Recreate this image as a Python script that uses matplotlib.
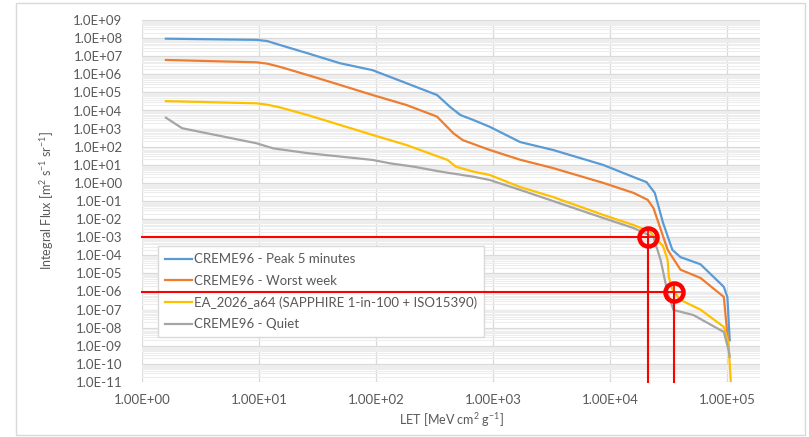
import numpy as np
import matplotlib
matplotlib.use('Agg')
import matplotlib.pyplot as plt
from matplotlib.ticker import FixedLocator, FuncFormatter, NullLocator, LogLocator
from matplotlib.patches import Rectangle

plt.rcParams['font.family'] = ['Lato', 'DejaVu Sans']
plt.rcParams['mathtext.fontset'] = 'custom'
plt.rcParams['mathtext.rm'] = 'Lato'
plt.rcParams['mathtext.it'] = 'Lato'

# LET spectra [MeV cm2 g-1] vs integral flux [m-2 s-1 sr-1]
peak_let = [1.6, 9.5, 11.7, 15, 26, 49, 93, 182, 331, 427, 525, 676, 933, 1700, 3240, 8710,
            15800, 20400, 24000, 28200, 33900, 39800, 58900, 93300, 100000, 104700]
peak_flux = [9.3e7, 8.0e7, 6.9e7, 4.2e7, 1.45e7, 4.1e6, 1.7e6, 3.2e5, 7.2e4, 1.6e4, 5.6e3, 3.0e3,
             1.26e3, 1.8e2, 66, 9.8, 2.1, 1.1, 0.28, 6.3e-3, 2.0e-4, 7.9e-5, 3.2e-5,
             1.8e-6, 5.0e-7, 2.0e-9]

week_let = [1.6, 9.5, 11.7, 15, 26, 49, 93, 182, 331, 457, 550, 933, 1700, 3240, 8710, 15800,
            20900, 23400, 30900, 39800, 58900, 93300, 102300]
week_flux = [6.2e6, 4.6e6, 3.9e6, 2.6e6, 9.1e5, 2.6e5, 7.2e4, 2.0e4, 4.6e3, 5.5e2, 2.3e2, 66, 19,
             6.6, 1.0, 0.28, 0.115, 0.04, 2.0e-4, 1.6e-5, 5.6e-6, 5.0e-7, 8.5e-10]

ea_let = [1.6, 9.5, 11.7, 15, 26, 49, 93, 182, 407, 479, 676, 933, 1700, 3240, 8710, 15800,
          21900, 28200, 30900, 31600, 33900, 39800, 58900, 93300, 102300, 107000]
ea_flux = [3.3e4, 2.5e4, 2.1e4, 1.5e4, 5.6e3, 1.6e3, 4.5e2, 1.23e2, 18.6, 7.9, 4.2, 2.75, 0.59,
           0.166, 0.017, 4.7e-3, 2.0e-3, 3.2e-4, 5.5e-5, 6.3e-6, 1.26e-6, 3.4e-7, 1.0e-7,
           1.1e-8, 1.4e-9, 1e-11]

quiet_let = [1.6, 2.2, 3.6, 9.5, 13.2, 26, 93, 132, 209, 355, 676, 933, 1700, 8710, 15800,
             23400, 26900, 30900, 34700, 51300, 93300, 102300, 104700]
quiet_flux = [4.0e3, 1.05e3, 5.5e2, 1.55e2, 81, 44, 18.6, 12, 7.9, 4.2, 2.2, 1.45, 0.41,
              0.0115, 3.2e-3, 1.0e-3, 5.5e-5, 8.3e-7, 9.5e-8, 5.0e-8, 5.8e-9, 5.9e-10, 2.5e-10]

labels = ['CREME96 - Peak 5 minutes', 'CREME96 - Worst week',
          'EA_2026_a64 (SAPPHIRE 1-in-100 + ISO15390)', 'CREME96 - Quiet']
colors = ['#5b9bd5', '#ed7d31', '#ffc000', '#a5a5a5']

# threshold markers: (LET, flux)
mark_let = [2.1e4, 3.5e4]
mark_flux = [1e-3, 1e-6]

xticks = [1e0, 1e1, 1e2, 1e3, 1e4, 1e5]
yticks = [10.0 ** k for k in range(-11, 10)]

fig = plt.figure(figsize=(8.09, 4.37), dpi=100)
ax = fig.add_axes([142 / 809, 1 - 382 / 437, 618 / 809, 362 / 437])

series = [(peak_let, peak_flux), (week_let, week_flux), (ea_let, ea_flux), (quiet_let, quiet_flux)]
for (x, y), lab, c in zip(series, labels, colors):
    ax.plot(x, y, color=c, lw=1.6, label=lab, zorder=3, solid_joinstyle='round')

ax.set_xscale('log')
ax.set_yscale('log')
xmin, xmax = 1.0, 1.9e5
ymin, ymax = 1e-11, 1e9
ax.set_xlim(xmin, xmax)
ax.set_ylim(ymin, ymax)

ax.xaxis.set_major_locator(FixedLocator(xticks))
ax.xaxis.set_minor_locator(NullLocator())
ax.yaxis.set_major_locator(FixedLocator(yticks))
ax.yaxis.set_minor_locator(LogLocator(base=10, subs=np.arange(2, 10), numticks=100))
ax.xaxis.set_major_formatter(FuncFormatter(lambda v, p: '%.2E' % v))
ax.yaxis.set_major_formatter(FuncFormatter(lambda v, p: '%.1E' % v))

ax.grid(which='major', axis='both', color='#d9d9d9', lw=0.9, zorder=0)
ax.grid(which='minor', axis='y', color='#ededed', lw=0.8, zorder=0)
ax.set_axisbelow(True)
for s in ax.spines.values():
    s.set_visible(False)
ax.tick_params(which='both', length=0, labelsize=9.5, colors='#595959')
ax.tick_params(axis='y', pad=14)
ax.tick_params(axis='x', pad=9)

# red threshold lines and rings
for lx, fy in zip(mark_let, mark_flux):
    ax.plot([xmin, lx], [fy, fy], color='#ff0000', lw=1.5, zorder=6, clip_on=False)
    ax.plot([lx, lx], [fy, ymin], color='#ff0000', lw=1.5, zorder=6, clip_on=False)
    ax.plot([lx], [fy], marker='o', ms=13, mfc='none', mec='#ff0000', mew=3.2, zorder=7)
    ax.plot([lx], [fy], marker='+', ms=12, mec='#ff0000', mew=1.2, zorder=7)

leg = ax.legend(loc='upper left', bbox_to_anchor=(0.026, 0.376), borderaxespad=0,
                frameon=True, fancybox=False, framealpha=1, edgecolor='#d9d9d9',
                fontsize=9.5, handlelength=2.0, handletextpad=0.15, labelspacing=0.72,
                borderpad=0.55)
leg.set_zorder(5)
for t in leg.get_texts():
    t.set_color('#595959')

fig.text(47 / 809, 1 - 201 / 437, r'Integral Flux [m$^{2}$ s$^{-1}$ sr$^{-1}$]',
         rotation=90, ha='center', va='center', fontsize=9, color='#595959')
fig.text(451 / 809, 1 - 420 / 437, r'LET [MeV cm$^{2}$ g$^{-1}$]',
         ha='center', va='center', fontsize=9, color='#595959')

fig.patches.append(Rectangle((16 / 809, 2 / 437), 789 / 809, 432 / 437,
                             transform=fig.transFigure, fill=False,
                             edgecolor='#d9d9d9', lw=1))

fig.savefig('out.png', dpi=100)
